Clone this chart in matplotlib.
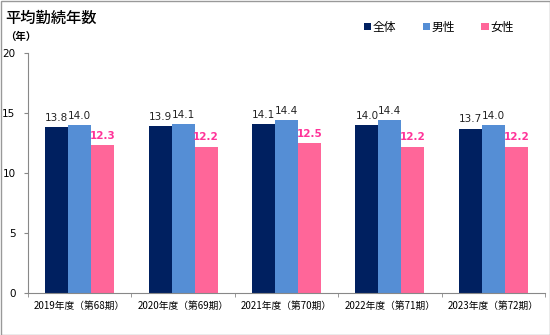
import matplotlib
matplotlib.use("Agg")
import matplotlib.pyplot as plt
import numpy as np
from matplotlib.patches import Rectangle

plt.rcParams['font.family'] = ['Noto Sans CJK JP', 'DejaVu Sans']

categories = ["2019年度（第68期）", "2020年度（第69期）", "2021年度（第70期）", "2022年度（第71期）", "2023年度（第72期）"]
series_names = ["全体", "男性", "女性"]
total = [13.8, 13.9, 14.1, 14.0, 13.7]
male = [14.0, 14.1, 14.4, 14.4, 14.0]
female = [12.3, 12.2, 12.5, 12.2, 12.2]
colors = ["#002060", "#558ED5", "#FF6699"]
label_colors = ["#222222", "#222222", "#FF3399"]
label_weights = ["normal", "normal", "bold"]
yticks = [0, 5, 10, 15, 20]

fig = plt.figure(figsize=(5.5, 3.35), dpi=100)
ax = fig.add_axes([28/550, 1-293/335, (545-28)/550, (293-53)/335])

x = np.arange(len(categories))
w = 0.222
for i, (vals, c, lc, lw) in enumerate(zip([total, male, female], colors, label_colors, label_weights)):
    pos = x + (i - 1) * w
    ax.bar(pos, vals, width=w, color=c, label=series_names[i], zorder=2)
    for px, v in zip(pos, vals):
        ax.text(px, v + 0.35, f"{v:.1f}", ha='center', va='bottom', fontsize=7.5,
                color=lc, fontweight=lw, family=['DejaVu Sans'])

ax.set_xlim(-0.5, len(categories) - 0.5)
ax.set_ylim(0, 20)
ax.set_yticks(yticks)
ax.set_yticklabels([str(t) for t in yticks], fontsize=7.5, family=['DejaVu Sans'])
ax.set_xticks(x)
ax.set_xticklabels(categories, fontsize=7)
ax.tick_params(axis='x', length=0, pad=6)
ax.set_xticks(np.arange(len(categories) + 1) - 0.5, minor=True)
ax.tick_params(axis='x', which='minor', length=3, color='#888888', direction='out')
ax.tick_params(axis='y', length=3, color='#888888', pad=6)
for s in ['top', 'right']:
    ax.spines[s].set_visible(False)
for s in ['left', 'bottom']:
    ax.spines[s].set_color('#888888')

fig.text(5/550, 1-18/335, "平均勤続年数", fontsize=11, fontweight='medium', va='center', ha='left')
fig.text(5/550, 1-37/335, "（年）", fontsize=7.5, fontweight='bold', va='center', ha='left')

leg = fig.legend(loc='center right', bbox_to_anchor=(525/550, 1-27/335), ncol=3, frameon=False,
                 fontsize=8.5, handlelength=0.6, handleheight=0.6, handletextpad=0.2, columnspacing=2.2)

fig.patches.append(Rectangle((0.5/550, 0.5/335), 1-1/550, 1-1/335, transform=fig.transFigure,
                             fill=False, edgecolor='#999999', linewidth=1))

fig.savefig("out.png", dpi=100)
